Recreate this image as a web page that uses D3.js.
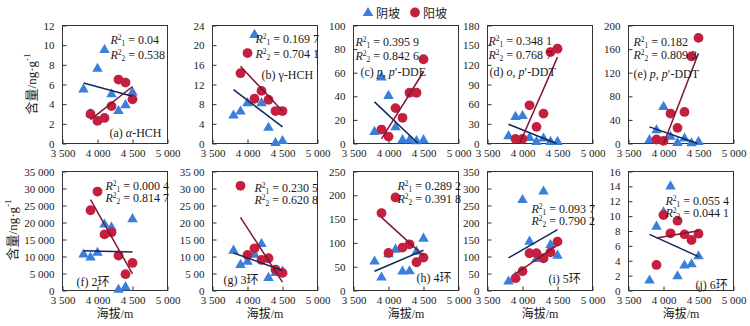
<!DOCTYPE html>
<html>
<head>
<meta charset="utf-8">
<script src="https://cdn.jsdelivr.net/npm/d3@7"></script>
<style>
  body { margin: 0; background: #fff; }
  svg { display: block; }
  text { font-family: "Liberation Serif", "Times New Roman", "Noto Sans CJK SC", serif; fill: #1a1a1a; }
</style>
</head>
<body>
<svg id="chart" width="750" height="326"></svg>
<script>
// Sampling altitudes (m)
const shadyAltitude = [3800, 3900, 4000, 4100, 4200, 4300, 4400, 4500];
const sunnyAltitude = [3900, 4000, 4100, 4200, 4300, 4400, 4500];
const seriesNames = ["阴坡", "阳坡"];
const xTickValues = [3500, 4000, 4500, 5000];
const xTickLabels = ["3 500", "4 000", "4 500", "5 000"];

// Concentrations, shady slope (阴坡) and sunny slope (阳坡)
const hchAShady = [5.5, 3.0, 7.6, 9.5, 5.0, 3.3, 3.9, 5.2];
const hchASunny = [3.0, 2.3, 2.6, 3.8, 6.5, 6.2, 4.5];
const hchGShady = [5.7, 6.5, 8.2, 22.1, 8.2, 3.2, 0.1, 0.5];
const hchGSunny = [14.3, 18.4, 9.1, 10.7, 8.9, 6.6, 6.6];
const ddeShady = [9.8, 56, 40.3, 13.7, 2.8, 2.8, 2.0, 2.8];
const ddeSunny = [11.8, 5.9, 30, 21.8, 43, 43, 71.4];
const opDdtShady = [11.2, 40.6, 42, 8.6, 2.5, 7.6, 2.5, 2.5];
const opDdtSunny = [7.1, 7.1, 58.3, 25.4, 45.6, 139.5, 144.5];
const ppDdtShady = [5.6, 22.5, 62, 11.3, 1.0, 8.5, 0.5, 2.8];
const ppDdtSunny = [6.8, 4.5, 50.7, 26.5, 53.5, 147.6, 179];
const ring2Shady = [10600, 9700, 11100, 19400, 18500, 200, 1000, 21000];
const ring2Sunny = [23600, 29100, 16500, 17100, 10300, 4800, 8100];
const ring3Shady = [1173, 753, 850, 1056, 1369, 371, 518, 560];
const ring3Sunny = [3079, 1046, 1241, 899, 948, 616, 518];
const ring4Shady = [60.8, 27.2, 76, 85.9, 39.8, 40.5, 81.7, 109];
const ring4Sunny = [162.7, 78.9, 195.5, 90, 97, 59.4, 69.1];
const ring5Shady = [26.4, 40, 266, 143.7, 92.9, 291, 134, 102.6];
const ring5Sunny = [36.2, 56.7, 109.5, 109.5, 94.8, 112.4, 143.7];
const ring6Shady = [1.34, 8.58, 10.5, 14.0, 1.92, 3.35, 3.53, 4.6];
const ring6Sunny = [3.44, 10.15, 7.69, 9.39, 7.55, 6.79, 7.64];

// Linear fit segments [[altitude, value], [altitude, value]]
const fitShady = [
  [[3800, 6.15], [4500, 4.8]],
  [[3800, 10.95], [4500, 3.4]],
  [[3800, 35.3], [4424, 0]],
  [[3800, 29.4], [4484, 0]],
  [[3800, 28.2], [4485, 0]],
  [[3800, 11700], [4500, 11300]],
  [[3800, 1105], [4500, 587]],
  [[3800, 40.5], [4500, 84.5]],
  [[3800, 95.8], [4500, 178.9]],
  [[3800, 7.55], [4500, 4.56]]
];
const fitSunny = [
  [[3900, 2.43], [4500, 5.8]],
  [[3900, 15.7], [4500, 6.6]],
  [[3900, 3.9], [4500, 60.8]],
  [[3959, 0], [4500, 131.8]],
  [[4003, 0], [4500, 153]],
  [[3900, 26700], [4500, 4900]],
  [[3900, 2150], [4500, 244]],
  [[3900, 153.6], [4500, 73.3]],
  [[3900, 48.9], [4500, 133.9]],
  [[3900, 7.06], [4500, 8.04]]
];

// Coefficients of determination
const r2Shady = ["0.04", "0.169 7", "0.395 9", "0.348 1", "0.182", "0.000 4", "0.230 5", "0.289 2", "0.093 7", "0.055 4"];
const r2Sunny = ["0.538", "0.704 1", "0.842 6", "0.768 7", "0.809 3", "0.814 7", "0.620 8", "0.391 8", "0.790 2", "0.044 1"];

// Panel titles as [text, italic] runs
const panelTitles = [
  [["(a) ", false], ["α", true], ["-HCH", false]],
  [["(b) γ-HCH", false]],
  [["(c) ", false], ["p", true], [", ", false], ["p", true], ["′-DDE", false]],
  [["(d) ", false], ["o", true], [", ", false], ["p", true], ["′-DDT", false]],
  [["(e) ", false], ["p", true], [", ", false], ["p", true], ["′-DDT", false]],
  [["(f) 2环", false]],
  [["(g) 3环", false]],
  [["(h) 4环", false]],
  [["(i) 5环", false]],
  [["(j) 6环", false]]
];

// Y axis ranges and tick labels
const yMaxes = [12, 24, 100, 180, 200, 35000, 3500, 250, 350, 16];
const yTickSteps = [2, 4, 20, 30, 40, 5000, 500, 50, 50, 2];
const yTickLabelsRing3 = ["0", "5 00", "10 00", "15 00", "20 00", "25 00", "30 00", "35 00"];

const shadyValues = [hchAShady, hchGShady, ddeShady, opDdtShady, ppDdtShady, ring2Shady, ring3Shady, ring4Shady, ring5Shady, ring6Shady];
const sunnyValues = [hchASunny, hchGSunny, ddeSunny, opDdtSunny, ppDdtSunny, ring2Sunny, ring3Sunny, ring4Sunny, ring5Sunny, ring6Sunny];

// ---- layout ----
const colLeft = [62, 212, 353, 487, 628];
const plotW = 105;
const rowTop = [25, 171];
const rowBottom = [143, 290];
// annotation anchors relative to the frame: R² block (rx, ry, line gap) and title (tx, ty)
const annot = [
  {rx: 48, ry: 14, ry2: 15, tx: 47, ty: 107},
  {rx: 43, ry: 13, ry2: 15, tx: 49, ty: 49},
  {rx: 2, ry: 16, ry2: 14, tx: 7, ty: 46},
  {rx: 1, ry: 15, ry2: 14, tx: 2, ty: 46},
  {rx: 5, ry: 16, ry2: 13, tx: 5, ty: 48},
  {rx: 43, ry: 14, ry2: 12, tx: 14, ty: 110},
  {rx: 42, ry: 16, ry2: 12, tx: 11, ty: 108},
  {rx: 44, ry: 14, ry2: 13, tx: 63, ty: 106},
  {rx: 44, ry: 37, ry2: 12, tx: 61, ty: 107},
  {rx: 37, ry: 29, ry2: 12, tx: 67, ty: 113}
];

const BLUE = "#3a7fdc";
const RED = "#c41f3e";
const BLUE_LINE = "#10285a";
const RED_LINE = "#7c1634";
const FRAME = "#333";

const svg = d3.select("#chart");

function tri(size) { return d3.symbol().type(d3.symbolTriangle).size(size)(); }

for (let i = 0; i < 10; i++) {
  const row = Math.floor(i / 5), col = i % 5;
  const x0 = colLeft[col] + 0.5, x1 = x0 + plotW;
  const y0 = rowTop[row] + 0.5, y1 = rowBottom[row] + 0.5;
  const x = d3.scaleLinear().domain([3500, 5000]).range([x0, x1]);
  const y = d3.scaleLinear().domain([0, yMaxes[i]]).range([y1, y0]);
  const g = svg.append("g");

  // Y axis (ticks pointing inward)
  const yTicks = d3.range(0, yMaxes[i] + yTickSteps[i] / 2, yTickSteps[i]);
  const yAxis = d3.axisLeft(y).tickValues(yTicks).tickSizeInner(-4).tickSizeOuter(0).tickPadding(8)
    .tickFormat((d, k) => i === 6 ? yTickLabelsRing3[k] : d3.format(",")(d).replace(/,/g, " "));
  const ya = g.append("g").attr("transform", `translate(${x0},0)`).call(yAxis);
  // X axis
  const xAxis = d3.axisBottom(x).tickValues(xTickValues).tickSizeInner(-4).tickSizeOuter(0).tickPadding(6)
    .tickFormat((d, k) => xTickLabels[k]);
  const xa = g.append("g").attr("transform", `translate(0,${y1})`).call(xAxis);
  [ya, xa].forEach(a => {
    a.select(".domain").remove();
    a.selectAll("line").attr("stroke", FRAME);
    a.selectAll("text").attr("font-size", 11).attr("font-family", "Liberation Serif, serif").attr("fill", "#1a1a1a");
  });

  // frame
  g.append("rect").attr("x", x0).attr("y", y0).attr("width", x1 - x0).attr("height", y1 - y0)
    .attr("fill", "none").attr("stroke", FRAME).attr("stroke-width", 1);

  // markers: shady (triangles) below sunny (circles)
  g.selectAll(".sh").data(shadyValues[i]).join("path")
    .attr("d", tri(48))
    .attr("transform", (d, k) => `translate(${x(shadyAltitude[k])},${y(d)})`)
    .attr("fill", BLUE);
  g.selectAll(".su").data(sunnyValues[i]).join("circle")
    .attr("cx", (d, k) => x(sunnyAltitude[k])).attr("cy", d => y(d)).attr("r", 4.9)
    .attr("fill", RED);

  // fit lines
  const line = d3.line().x(d => x(d[0])).y(d => y(d[1]));
  g.append("path").attr("d", line(fitShady[i])).attr("stroke", BLUE_LINE).attr("stroke-width", 1.5).attr("fill", "none");
  g.append("path").attr("d", line(fitSunny[i])).attr("stroke", RED_LINE).attr("stroke-width", 1.5).attr("fill", "none");

  // R² annotations
  const a = annot[i];
  [[r2Shady[i], "1"], [r2Sunny[i], "2"]].forEach((r, k) => {
    const t = g.append("text").attr("x", x0 + a.rx).attr("y", y0 + a.ry + 4 + k * a.ry2).attr("font-size", 12);
    t.append("tspan").attr("font-style", "italic").text("R");
    t.append("tspan").attr("font-size", 7.5).attr("dy", -4).text("2");
    t.append("tspan").attr("font-size", 7.5).attr("dy", 6).text(r[1]);
    t.append("tspan").attr("dy", -2).text(" = " + r[0]);
  });
  // panel title
  const tt = g.append("text").attr("x", x0 + a.tx).attr("y", y0 + a.ty + 4).attr("font-size", 12);
  panelTitles[i].forEach(s => tt.append("tspan").attr("font-style", s[1] ? "italic" : null).text(s[0]));

  // x title in bottom row
  if (row === 1) {
    svg.append("text").attr("x", (x0 + x1) / 2).attr("y", 318).attr("text-anchor", "middle")
      .attr("font-size", 12).text("海拔/m");
  }
}

// y titles
[[33, 84], [14, 230]].forEach(p => {
  const t = svg.append("text").attr("transform", `translate(${p[0]},${p[1]}) rotate(-90)`)
    .attr("text-anchor", "middle").attr("font-size", 13).attr("dominant-baseline", "middle");
  t.append("tspan").text("含量/ng·g");
  t.append("tspan").attr("font-size", 9).attr("dy", -5).text("-1");
});

// legend
const lg = svg.append("g");
lg.append("path").attr("d", tri(48)).attr("transform", "translate(368,13)").attr("fill", BLUE);
lg.append("text").attr("x", 376).attr("y", 17.5).attr("font-size", 12).text(seriesNames[0]);
lg.append("circle").attr("cx", 415).attr("cy", 12.5).attr("r", 4.9).attr("fill", RED);
lg.append("text").attr("x", 423).attr("y", 17.5).attr("font-size", 12).text(seriesNames[1]);
</script>
</body>
</html>
